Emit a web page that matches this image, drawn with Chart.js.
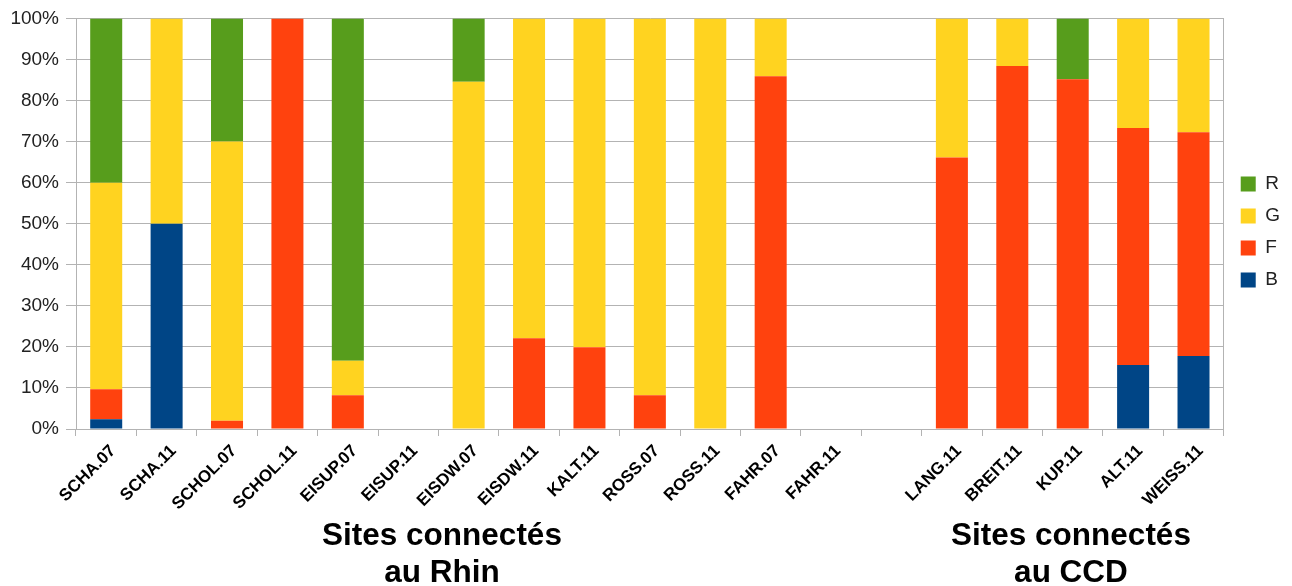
<!DOCTYPE html>
<html>
<head>
<meta charset="utf-8">
<script src="https://cdn.jsdelivr.net/npm/chart.js@4/dist/chart.umd.min.js"></script>
<style>
  html, body { margin: 0; padding: 0; background: #fff; }
  #wrap { position: relative; width: 1292px; height: 586px; }
  canvas { position: absolute; left: 0; top: 0; }
  .grp { position: absolute; font-family: "Liberation Sans", Arial, sans-serif; font-weight: bold;
         font-size: 31.5px; line-height: 37px; color: #000; text-align: center; width: 340px; }
</style>
</head>
<body>
<div id="wrap">
  <canvas id="c" width="1292" height="586"></canvas>
  <div class="grp" style="left:272px; top:516px;">Sites connectés<br>au Rhin</div>
  <div class="grp" style="left:901px; top:516px;">Sites connectés<br>au CCD</div>
</div>
<script>
const categories = ["SCHA.07","SCHA.11","SCHOL.07","SCHOL.11","EISUP.07","EISUP.11","EISDW.07","EISDW.11","KALT.11","ROSS.07","ROSS.11","FAHR.07","FAHR.11","","LANG.11","BREIT.11","KUP.11","ALT.11","WEISS.11"];
const seriesB = [2.4, 50, 0, 0, 0, 0, 0, 0, 0, 0, 0, 0, 0, 0, 0, 0, 0, 15.6, 17.8];
const seriesF = [7.3, 0, 2.0, 100, 8.2, 0, 0, 22.1, 19.9, 8.2, 0, 85.9, 0, 0, 66.1, 88.4, 85.2, 57.7, 54.5];
const seriesG = [50.3, 50, 68.0, 0, 8.4, 0, 84.6, 77.9, 80.1, 91.8, 100, 14.1, 0, 0, 33.9, 11.6, 0, 26.7, 27.7];
const seriesR = [40.0, 0, 30.0, 0, 83.4, 0, 15.4, 0, 0, 0, 0, 0, 0, 0, 0, 0, 14.8, 0, 0];
const yTicks = [0,10,20,30,40,50,60,70,80,90,100];

const FONT = "'Liberation Sans', Arial, sans-serif";
const ds = (label, data, color) => ({ label, data, backgroundColor: color, borderWidth: 0,
  categoryPercentage: 1.0, barPercentage: 0.53 });

const legendShift = {
  id: 'legendShift',
  afterLayout(chart) {
    const l = chart.legend;
    if (!l) return;
    l.top -= 70; l.bottom -= 70;
    l.left += 4; l.right += 4;
  }
};

new Chart(document.getElementById('c'), {
  type: 'bar',
  data: {
    labels: categories,
    datasets: [
      ds('B', seriesB, '#004586'),
      ds('F', seriesF, '#ff420e'),
      ds('G', seriesG, '#ffd320'),
      ds('R', seriesR, '#579d1c')
    ]
  },
  plugins: [legendShift],
  options: {
    responsive: false,
    animation: false,
    layout: { padding: { top: 18, left: 0, right: 6, bottom: 0 } },
    plugins: {
      legend: {
        position: 'right',
        reverse: true,
        labels: { boxWidth: 15, boxHeight: 15, padding: 13, color: '#222',
                  font: { family: FONT, size: 19 } }
      },
      tooltip: { enabled: false }
    },
    scales: {
      x: {
        stacked: true,
        grid: { drawOnChartArea: false, drawTicks: true, tickLength: 7, color: '#b3b3b3', offset: true },
        border: { color: '#b3b3b3' },
        ticks: { maxRotation: 45, minRotation: 45, autoSkip: false, color: '#000', padding: 5, labelOffset: 7,
                 font: { family: FONT, size: 17, weight: 'bold' } },
        afterFit: s => { s.height = 157; }
      },
      y: {
        stacked: true,
        min: 0, max: 100,
        afterBuildTicks: s => { s.ticks = yTicks.map(v => ({ value: v })); },
        grid: { color: '#b3b3b3', tickLength: 10 },
        border: { color: '#b3b3b3' },
        ticks: { color: '#222', padding: 7, callback: v => v + '%',
                 font: { family: FONT, size: 19 } },
        afterFit: s => { s.width = 76; }
      },
      y2: {
        position: 'right',
        min: 0, max: 100,
        grid: { drawOnChartArea: false, drawTicks: false },
        border: { color: '#b3b3b3' },
        ticks: { display: false },
        afterFit: s => { s.width = 0; }
      }
    }
  }
});
</script>
</body>
</html>
